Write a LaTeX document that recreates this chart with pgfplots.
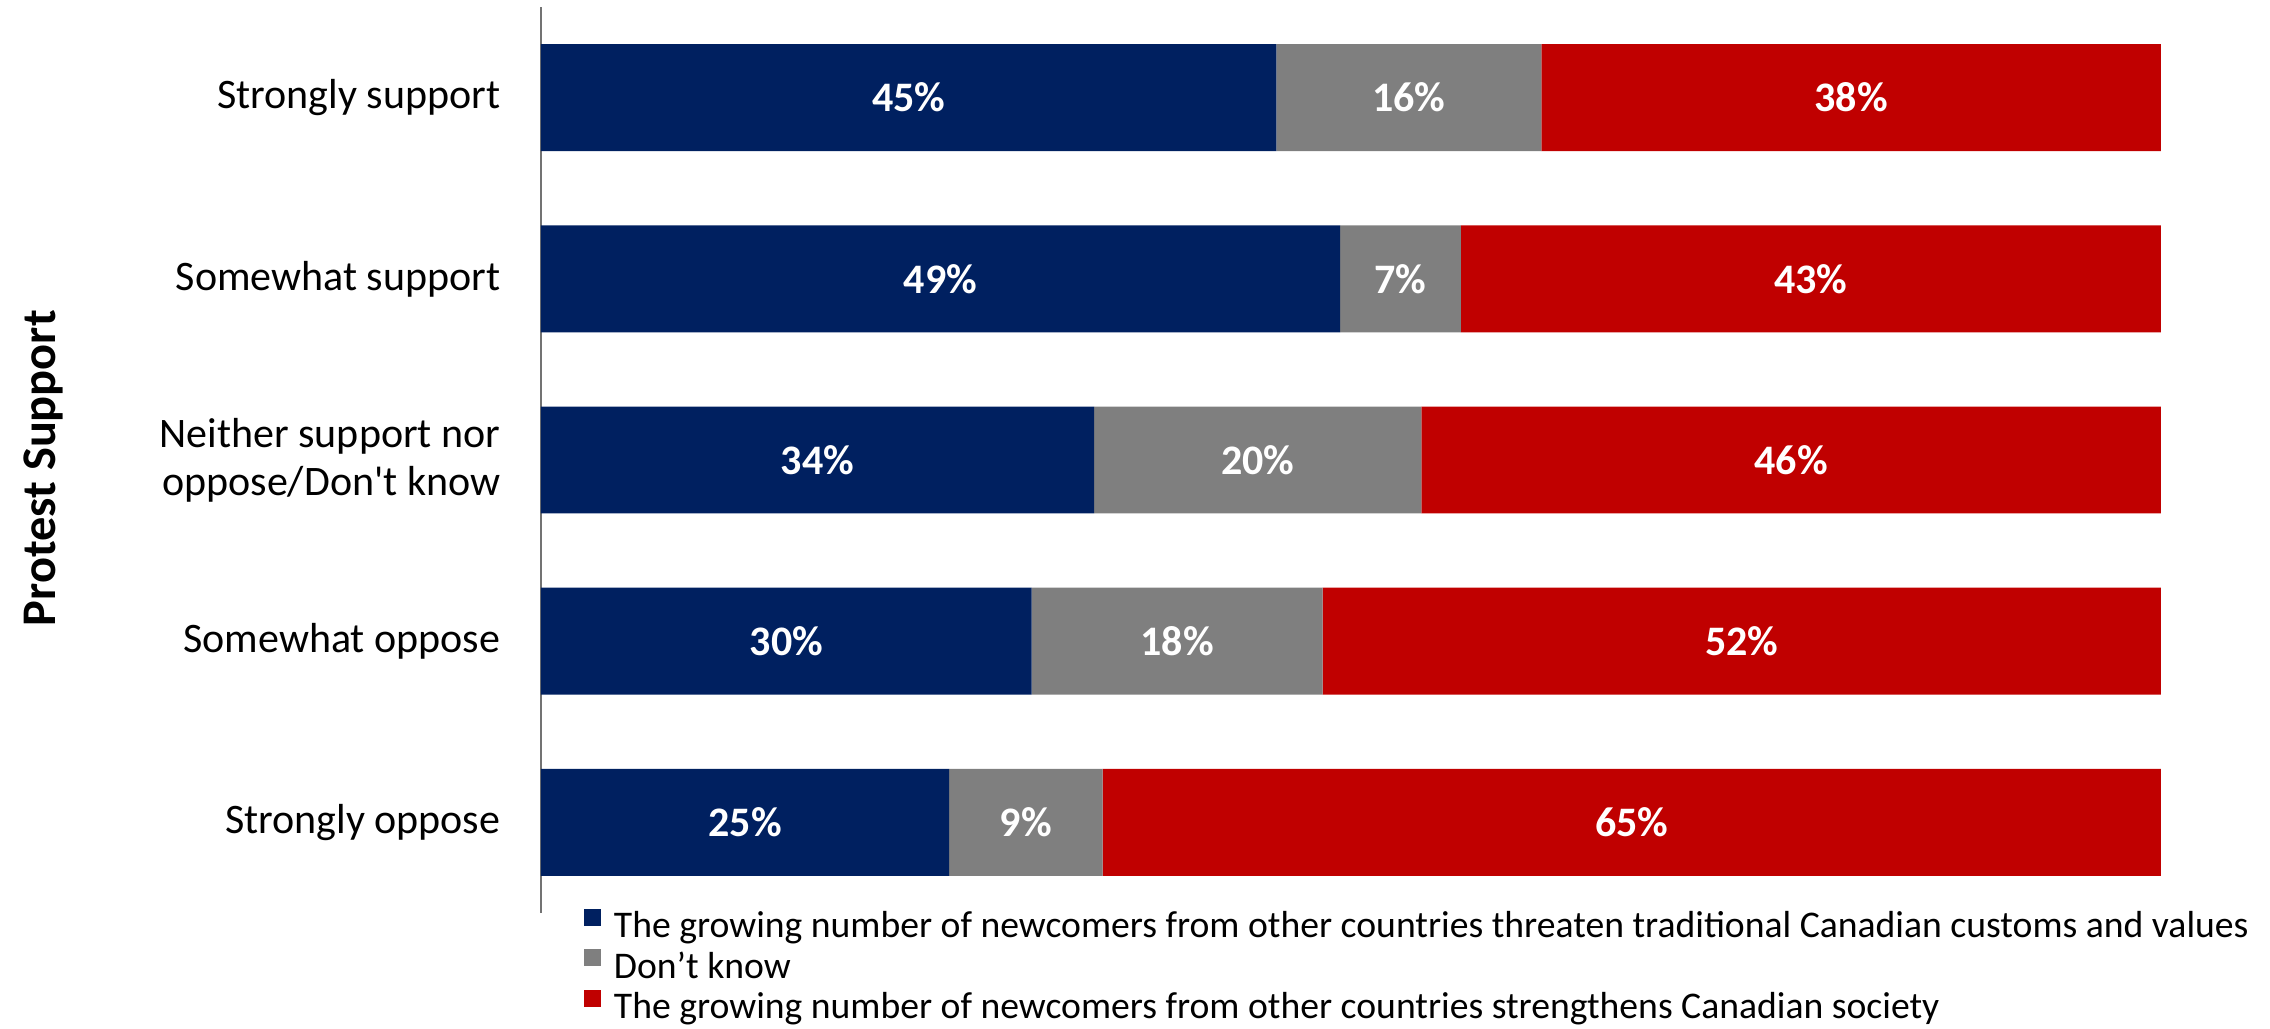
\documentclass[border=0pt]{standalone}
\usepackage{pgfplots}
\pgfplotsset{compat=1.18}
\usepackage{fontspec}
\setmainfont{Carlito}
\definecolor{cnavy}{HTML}{002060}
\definecolor{cgray}{HTML}{7F7F7F}
\definecolor{cred}{HTML}{C00000}
\begin{document}
\begin{tikzpicture}
\path[use as bounding box] (-162.3pt,-34.5pt) rectangle (518.7pt,273.9pt);
\begin{axis}[
  at={(0pt,0pt)}, anchor=south west,
  scale only axis, width=486pt, height=271.8pt,
  xbar stacked, bar width=0.59,
  xmin=0, xmax=100, ymin=-0.5, ymax=4.5,
  axis x line=none, axis y line*=left,
  axis line style={draw=black!55, line width=0.5pt},
  ytick={0,1,2,3,4},
  yticklabels={Strongly oppose, Somewhat oppose, {Neither support nor\\oppose/Don\textquotesingle t know}, Somewhat support, Strongly support},
  major tick length=0pt, ytick style={draw=none},
  yticklabel style={font=\fontsize{12.6}{14.4}\selectfont, align=right, inner sep=0pt, xshift=-12pt},
  ylabel={Protest Support},
  every axis y label/.style={at={(axis description cs:-0.3074,0.491)}, rotate=90, anchor=center, font=\fontsize{14.5}{17}\selectfont\bfseries},
  legend style={at={(axis description cs:0.0259,0.0066)}, anchor=north west, draw=none, fill=none, inner sep=0pt,
    font=\fontsize{11.3}{13}\selectfont, row sep=0pt,
    nodes={inner sep=0pt, text height=9pt, text depth=3.15pt},
    /tikz/every odd column/.append style={column sep=3.9pt}},
  legend cell align=left,
  legend image code/.code={\fill[#1] (0pt,0.6pt) rectangle (5.2pt,5.8pt);},
]
\addplot[fill=cnavy, draw=none] coordinates {(25.20,0) (30.29,1) (34.14,2) (49.33,3) (45.40,4)};
\addplot[fill=cgray, draw=none] coordinates {(9.47,0) (17.96,1) (20.20,2) (7.45,3) (16.35,4)};
\addplot[fill=cred, draw=none] coordinates {(65.33,0) (51.75,1) (45.66,2) (43.22,3) (38.25,4)};
\legend{The growing number of newcomers from other countries threaten traditional Canadian customs and values, Don’t know, The growing number of newcomers from other countries strengthens Canadian society}
\end{axis}
\begin{axis}[
  at={(0pt,0pt)}, anchor=south west,
  scale only axis, width=486pt, height=271.8pt,
  xmin=0, xmax=100, ymin=-0.5, ymax=4.5,
  hide axis,
]
\addplot[draw=none, mark=none, nodes near coords, point meta=explicit symbolic,
  every node near coord/.append style={anchor=center, text=white, font=\fontsize{12.6}{14}\selectfont\bfseries}]
  coordinates {
  (12.600,0) [25\%] (29.935,0) [9\%] (67.335,0) [65\%]
  (15.145,1) [30\%] (39.270,1) [18\%] (74.125,1) [52\%]
  (17.070,2) [34\%] (44.240,2) [20\%] (77.170,2) [46\%]
  (24.665,3) [49\%] (53.055,3) [7\%] (78.390,3) [43\%]
  (22.700,4) [45\%] (53.575,4) [16\%] (80.875,4) [38\%]
  };
\end{axis}
\end{tikzpicture}
\end{document}
